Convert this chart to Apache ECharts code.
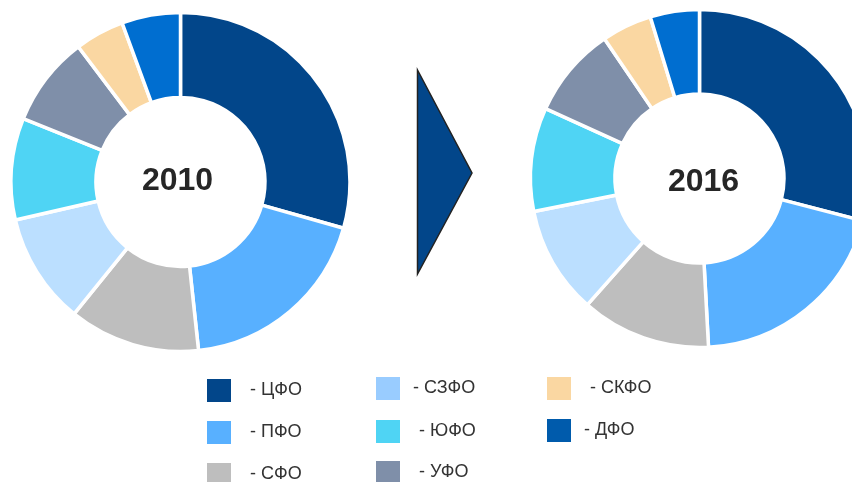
<!DOCTYPE html>
<html>
<head>
<meta charset="utf-8">
<script src="https://cdn.jsdelivr.net/npm/echarts@6/dist/echarts.min.js"></script>
<style>
  html,body{margin:0;padding:0;background:#fff;}
  #chart{width:852px;height:482px;}
</style>
</head>
<body>
<div id="chart"></div>
<script>
// districts and their shares (%)
var districts = ['ЦФО', 'ПФО', 'СФО', 'СЗФО', 'ЮФО', 'УФО', 'СКФО', 'ДФО']
var share2010 = [29.4, 18.9, 12.5, 10.6, 9.7, 8.6, 4.7, 5.6]
var share2016 = [29.0, 20.1, 12.4, 10.3, 9.9, 8.7, 4.8, 4.7]
var years = ['2010', '2016']

var sliceColors = ['#02468A', '#58B0FF', '#BEBEBE', '#BBDFFF', '#4FD4F4', '#7F8FA9', '#FAD7A2', '#006ED0']
var legendColors = ['#02468A', '#58B0FF', '#BEBEBE', '#99CCFF', '#4FD4F4', '#7F8FA9', '#FAD7A2', '#005BAC']

// legend square positions [left, top] and gap to text
var legendPos = [[207, 379], [207, 421], [207, 463], [376, 377], [376, 420], [376, 461], [547, 377], [547, 419]]
var legendPad = [14, 14, 14, 8, 14, 14, 14, 8]

var chart = echarts.init(document.getElementById('chart'))

function pieData(values){
  return districts.map(function(name, i){
    return { name: name, value: values[i], itemStyle: { color: sliceColors[i] } }
  })
}

var legends = districts.map(function(name, i){
  return {
    left: legendPos[i][0],
    top: legendPos[i][1],
    padding: 0,
    itemWidth: 24,
    itemHeight: 23,
    selectedMode: false,
    icon: 'rect',
    itemStyle: { borderWidth: 0 },
    formatter: function(n){ return '- ' + n },
    textStyle: { color: '#333', fontSize: 18, fontFamily: 'Liberation Sans, Arial, sans-serif', padding: [0, 0, 0, legendPad[i]] },
    data: [{ name: name, itemStyle: { color: legendColors[i], borderWidth: 0 } }]
  }
})

var option = {
  animation: false,
  legend: legends,
  series: [
    {
      type: 'pie',
      center: [180.5, 182],
      radius: [84.5, 169.5],
      startAngle: 90,
      clockwise: true,
      label: { show: false },
      emphasis: { disabled: true },
      itemStyle: { borderColor: '#fff', borderWidth: 3.5 },
      data: pieData(share2010)
    },
    {
      type: 'pie',
      center: [699.5, 178.5],
      radius: [84.5, 169],
      startAngle: 90,
      clockwise: true,
      label: { show: false },
      emphasis: { disabled: true },
      itemStyle: { borderColor: '#fff', borderWidth: 3.5 },
      data: pieData(share2016)
    }
  ],
  graphic: [
    {
      type: 'text', x: 177.5, y: 181.5,
      style: { text: years[0], align: 'center', verticalAlign: 'middle', fill: '#262626',
        font: 'bold 32px "Liberation Sans", Arial, sans-serif' }
    },
    {
      type: 'text', x: 703.5, y: 182,
      style: { text: years[1], align: 'center', verticalAlign: 'middle', fill: '#262626',
        font: 'bold 32px "Liberation Sans", Arial, sans-serif' }
    },
    {
      type: 'polygon',
      shape: { points: [[417.5, 70], [472, 173], [417.5, 274]] },
      style: { fill: '#02468A', stroke: '#222', lineWidth: 1.5 }
    }
  ]
}

chart.setOption(option)
</script>
</body>
</html>
